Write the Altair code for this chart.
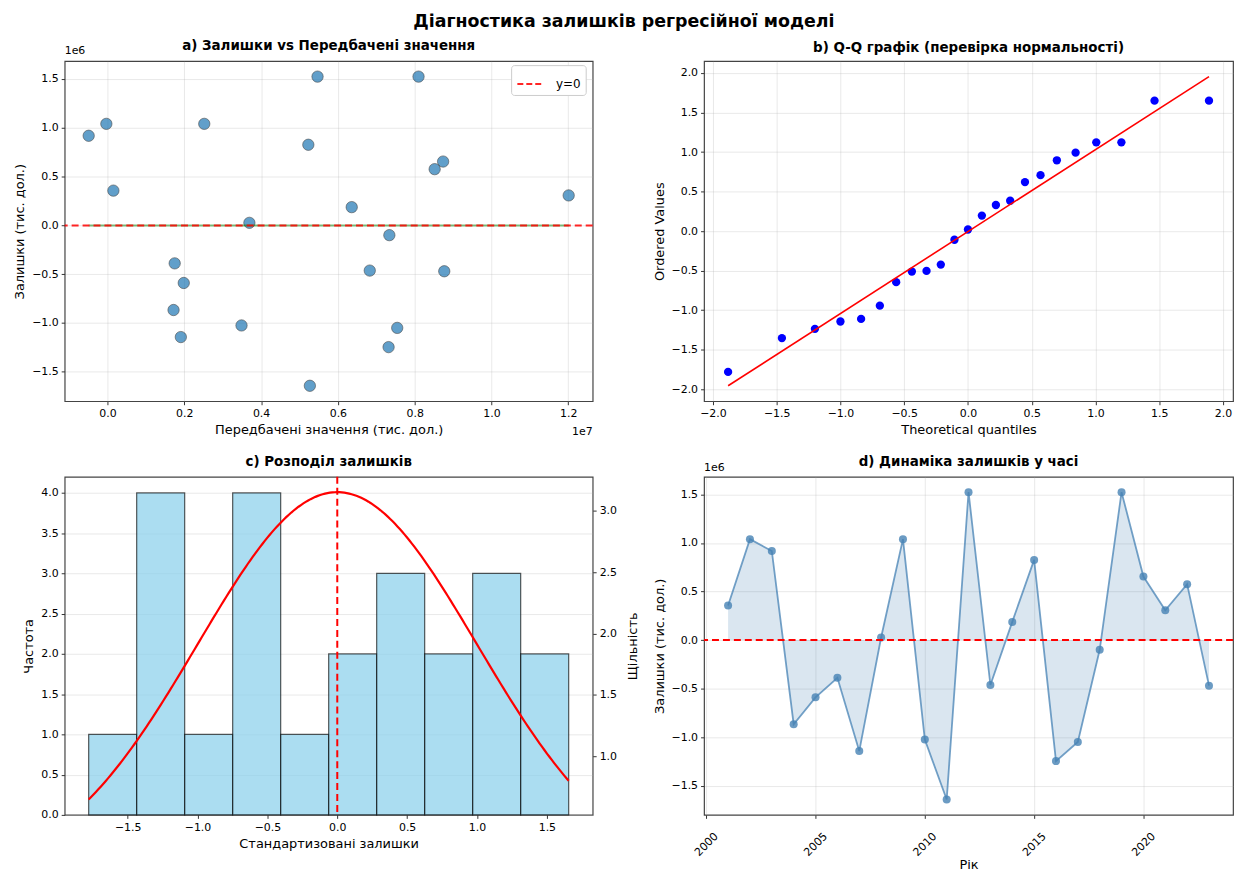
import altair as alt
import pandas as pd
import numpy as np

# ---------------- data ----------------
years = list(range(2001, 2024))
residuals = [356000, 1040000, 918000, -867000, -590000, -389000, -1144000, 26000,
             1040000, -1025000, -1643000, 1524000, -463000, 187000, 826000, -1247000,
             -1050000, -100000, 1524000, 654000, 307000, 576000, -470000]
predicted = [153000, -30000, -490000, 1720000, 1986000, 1750000, 1910000, 3695000,
             2520000, 3490000, 5270000, 5470000, 6830000, 6360000, 5230000, 7320000,
             7545000, 7340000, 8100000, 8740000, 12010000, 8520000, 8770000]

qq_theoretical = [-1.881, -1.459, -1.200, -1.000, -0.838, -0.691, -0.563, -0.440, -0.325,
                  -0.213, -0.106, 0.000, 0.109, 0.219, 0.331, 0.447, 0.569, 0.697,
                  0.844, 1.006, 1.203, 1.463, 1.890]
qq_ordered = [-1.780, -1.353, -1.236, -1.143, -1.110, -0.942, -0.645, -0.511, -0.503,
              -0.423, -0.109, 0.021, 0.197, 0.331, 0.385, 0.620, 0.708, 0.896,
              0.993, 1.123, 1.123, 1.650, 1.650]

hist_counts = [1, 4, 1, 4, 1, 2, 3, 2, 3, 2]
hist_min, hist_max = -1.779, 1.656
norm_mu, norm_sigma = 0.0, 1.0

resid_ticks = [-1.5e6, -1.0e6, -0.5e6, 0.0, 0.5e6, 1.0e6, 1.5e6]
pred_ticks = [0, 2e6, 4e6, 6e6, 8e6, 10e6, 12e6]
qq_ticks = [-2.0, -1.5, -1.0, -0.5, 0.0, 0.5, 1.0, 1.5, 2.0]
hist_x_ticks = [-1.5, -1.0, -0.5, 0.0, 0.5, 1.0, 1.5]
freq_ticks = [0.0, 0.5, 1.0, 1.5, 2.0, 2.5, 3.0, 3.5, 4.0]
dens_ticks = [1.0, 1.5, 2.0, 2.5, 3.0]
year_ticks = [2000, 2005, 2010, 2015, 2020]

FONT = "DejaVu Sans"
W1, W2 = 531, 532
H1, H2 = 342, 340
BLUE = "#1f77b4"
STEEL = "#4682b4"


def padded(lo, hi, frac=0.05):
    r = hi - lo
    return [lo - frac * r, hi + frac * r]


def ptitle(t, offset=7):
    return alt.Title(t, fontSize=13.5, fontWeight="bold", font=FONT, color="black",
                     offset=offset, frame="group")


# ---------------- panel a ----------------
df_a = pd.DataFrame({"pred": predicted, "resid": residuals})
xa = alt.X("pred:Q",
           scale=alt.Scale(domain=padded(min(predicted), max(predicted)), nice=False, zero=False),
           axis=alt.Axis(title="Передбачені значення (тис. дол.)", values=pred_ticks,
                         labelExpr="format(datum.value/1e7, '.1f')", grid=True))
ya = alt.Y("resid:Q",
           scale=alt.Scale(domain=padded(min(residuals), max(residuals)), nice=False, zero=False),
           axis=alt.Axis(title="Залишки (тис. дол.)", values=resid_ticks,
                         labelExpr="format(datum.value/1e6, '.1f')", grid=True))

pts_a = alt.Chart(df_a).mark_circle(size=130, color=BLUE, opacity=0.7,
                                    stroke="black", strokeWidth=0.6).encode(xa, ya)
trend_a = alt.Chart(df_a).transform_regression("pred", "resid").mark_line(
    color="green", opacity=0.5, strokeWidth=2).encode(xa, ya)
df_zero = pd.DataFrame({"resid": [0.0], "label": ["y=0"]})
rule_a = alt.Chart(df_zero).mark_rule(strokeDash=[7, 4], strokeWidth=2, opacity=0.85).encode(
    y=alt.Y("resid:Q"),
    color=alt.Color("label:N", scale=alt.Scale(range=["red"]),
                    legend=alt.Legend(title=None, orient="none", legendX=W1 - 82, legendY=4,
                                      symbolType="stroke",
                                      symbolDash=[6, 3], symbolStrokeWidth=2, symbolSize=650,
                                      fillColor="white", strokeColor="#cccccc", padding=5,
                                      cornerRadius=3, labelFontSize=12, labelFont=FONT,
                                      labelOffset=12)))
off6_a = alt.Chart(pd.DataFrame({"t": ["1e6"]})).mark_text(
    align="left", baseline="middle", fontSize=11, font=FONT, color="black").encode(
    x=alt.value(0), y=alt.value(-10), text="t:N")
off7_a = alt.Chart(pd.DataFrame({"t": ["1e7"]})).mark_text(
    align="right", baseline="middle", fontSize=11, font=FONT, color="black").encode(
    x=alt.value(W1), y=alt.value(H1 + 31), text="t:N")

panel_a = alt.layer(pts_a, trend_a, rule_a, off6_a, off7_a).properties(
    width=W1, height=H1, title=ptitle("a) Залишки vs Передбачені значення", offset=-7))

# ---------------- panel b ----------------
df_b = pd.DataFrame({"theo": qq_theoretical, "ord": qq_ordered})
slope, intercept = np.polyfit(qq_theoretical, qq_ordered, 1)
line_lo = slope * min(qq_theoretical) + intercept
line_hi = slope * max(qq_theoretical) + intercept
xb = alt.X("theo:Q",
           scale=alt.Scale(domain=padded(min(qq_theoretical), max(qq_theoretical)), nice=False, zero=False),
           axis=alt.Axis(title="Theoretical quantiles", values=qq_ticks, format=".1f", grid=True))
yb = alt.Y("ord:Q",
           scale=alt.Scale(domain=padded(min(min(qq_ordered), line_lo), max(max(qq_ordered), line_hi)),
                           nice=False, zero=False),
           axis=alt.Axis(title="Ordered Values", values=qq_ticks, format=".1f", grid=True))
pts_b = alt.Chart(df_b).mark_circle(size=70, color="blue", opacity=1).encode(xb, yb)
line_b = alt.Chart(df_b).transform_regression("theo", "ord").mark_line(
    color="red", strokeWidth=1.6).encode(xb, yb)
panel_b = alt.layer(pts_b, line_b).properties(
    width=W2, height=H1, title=ptitle("b) Q-Q графік (перевірка нормальності)"))

# ---------------- panel c ----------------
edges = np.linspace(hist_min, hist_max, len(hist_counts) + 1)
df_c = pd.DataFrame({"start": edges[:-1], "end": edges[1:], "count": hist_counts})
df_c["base"] = 0.0
n_obs = sum(hist_counts)
bw = (hist_max - hist_min) / len(hist_counts)
xs = np.linspace(hist_min, hist_max, 200)
dens = n_obs * bw * np.exp(-((xs - norm_mu) ** 2) / (2 * norm_sigma ** 2)) / (norm_sigma * np.sqrt(2 * np.pi))
df_curve = pd.DataFrame({"start": xs, "dens": dens})

xc = alt.X("start:Q",
           scale=alt.Scale(domain=padded(hist_min, hist_max), nice=False, zero=False),
           axis=alt.Axis(title="Стандартизовані залишки", values=hist_x_ticks, format=".1f", grid=False))
bars = alt.Chart(df_c).mark_bar(fill="#87ceeb", fillOpacity=0.7, stroke="black",
                                strokeOpacity=0.65, strokeWidth=1.2).encode(
    xc, x2="end:Q",
    y=alt.Y("count:Q", scale=alt.Scale(domain=[0, max(hist_counts) * 1.05], nice=False),
            axis=alt.Axis(title="Частота", values=freq_ticks, format=".1f", grid=True)),
    y2="base:Q")
curve = alt.Chart(df_curve).mark_line(color="red", strokeWidth=2.2).encode(
    xc,
    y=alt.Y("dens:Q", scale=alt.Scale(domain=padded(dens.min(), dens.max()), nice=False, zero=False),
            axis=alt.Axis(title="Щільність", orient="right", values=dens_ticks, format=".1f",
                          grid=False, titleAngle=270, titleBaseline="top", titlePadding=10)))
vrule = alt.Chart(pd.DataFrame({"start": [norm_mu]})).mark_rule(
    color="red", strokeDash=[7, 4], strokeWidth=2).encode(x="start:Q")
panel_c = alt.layer(bars, curve, vrule).resolve_scale(y="independent").properties(
    width=W1, height=H2, title=ptitle("c) Розподіл залишків"))

# ---------------- panel d ----------------
df_d = pd.DataFrame({"year": years, "resid": residuals})
df_d["zero"] = 0.0
xd = alt.X("year:Q",
           scale=alt.Scale(domain=padded(min(years), max(years)), nice=False, zero=False),
           axis=alt.Axis(title="Рік", values=year_ticks, format="d", grid=True,
                         labelAngle=-45, labelAlign="center", labelBaseline="middle",
                         labelPadding=26, titlePadding=1))
yd = alt.Y("resid:Q",
           scale=alt.Scale(domain=padded(min(residuals), max(residuals)), nice=False, zero=False),
           axis=alt.Axis(title="Залишки (тис. дол.)", values=resid_ticks,
                         labelExpr="format(datum.value/1e6, '.1f')", grid=True))
area_d = alt.Chart(df_d).mark_area(color=STEEL, opacity=0.2).encode(xd, yd, y2="zero:Q")
line_d = alt.Chart(df_d).mark_line(color=STEEL, opacity=0.75, strokeWidth=1.8).encode(xd, yd)
pts_d = alt.Chart(df_d).mark_circle(color=STEEL, opacity=0.8, size=65).encode(xd, yd)
rule_d = alt.Chart(pd.DataFrame({"resid": [0.0]})).mark_rule(
    color="red", strokeDash=[7, 4], strokeWidth=2).encode(y="resid:Q")
off6_d = alt.Chart(pd.DataFrame({"t": ["1e6"]})).mark_text(
    align="left", baseline="middle", fontSize=11, font=FONT, color="black").encode(
    x=alt.value(0), y=alt.value(-9), text="t:N")
panel_d = alt.layer(area_d, line_d, pts_d, rule_d, off6_d).properties(
    width=W2, height=H2, title=ptitle("d) Динаміка залишків у часі", offset=-7))

# ---------------- assemble ----------------
chart = alt.concat(
    panel_a, panel_b, panel_c, panel_d,
    columns=2,
    spacing={"row": 76, "column": 112},
    bounds="flush",
    title=alt.Title("Діагностика залишків регресійної моделі", fontSize=17.5, fontWeight="bold",
                    font=FONT, color="black", anchor="middle", offset=8),
).properties(
    padding={"left": 5, "top": 2, "right": 5, "bottom": 0}
).configure_view(
    stroke="#444444", strokeWidth=1.2
).configure_axis(
    labelFont=FONT, titleFont=FONT, labelFontSize=11, titleFontSize=13,
    titleFontWeight="normal", labelColor="black", titleColor="black",
    tickColor="#333333", tickSize=3.5, tickWidth=1, domain=False,
    gridColor="#b0b0b0", gridOpacity=0.35, gridWidth=0.8,
    labelPadding=3, titlePadding=5
).configure_legend(
    labelFont=FONT
)

chart.save("out.html", embed_options={"renderer": "svg", "actions": False})
